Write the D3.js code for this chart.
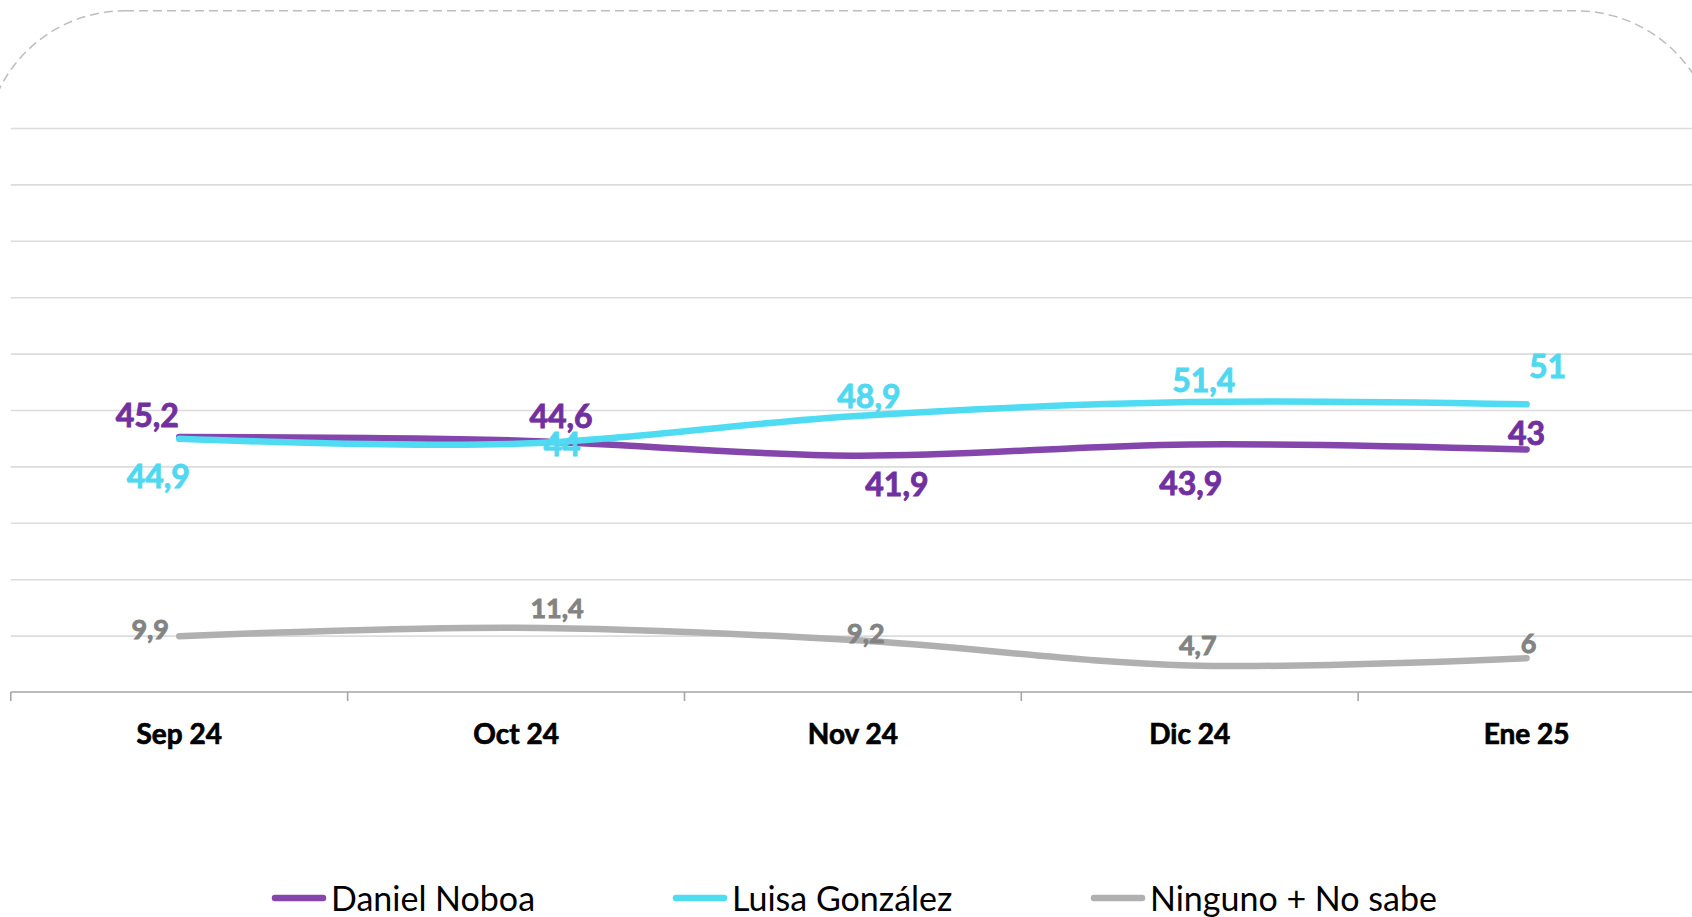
<!DOCTYPE html>
<html>
<head>
<meta charset="utf-8">
<script src="https://cdn.jsdelivr.net/npm/d3@7"></script>
<style>
  html, body { margin: 0; padding: 0; background: #fff; overflow: hidden; }
  svg { display: block; }
</style>
</head>
<body>
<div id="chart"></div>
<script>
// data
const months = ["Sep 24", "Oct 24", "Nov 24", "Dic 24", "Ene 25"];
const noboa = [45.2, 44.6, 41.9, 43.9, 43];
const gonzalez = [44.9, 44, 48.9, 51.4, 51];
const ninguno = [9.9, 11.4, 9.2, 4.7, 6];
const seriesNames = ["Daniel Noboa", "Luisa González", "Ninguno + No sabe"];
const yTicks = [10, 20, 30, 40, 50, 60, 70, 80, 90, 100];

// label offsets from the point (px), as Excel placed them
const noboaOff = [[-32, -22], [45, -24], [44, 29], [1, 39], [0, -16]];
const gonzalezOff = [[-21, 38], [46, 1], [16, -20], [14, -22], [21, -38]];
const ningunoOff = [[-29, -7], [41, -19], [13, -7], [8, -20], [2, -15]];

const W = 1692, H = 917;
const plotTop = 128, plotBottom = 692, plotLeft = 10.8, plotRight = 1695;

const series = [
  {name: seriesNames[0], values: noboa, off: noboaOff, line: "#8446AC", label: "#7030A0", size: 32},
  {name: seriesNames[1], values: gonzalez, off: gonzalezOff, line: "#4FDCF2", label: "#4FD8F0", size: 32},
  {name: seriesNames[2], values: ninguno, off: ningunoOff, line: "#B0B0B0", label: "#838383", size: 27}
];

const svg = d3.select("#chart")
  .append("svg")
    .attr("width", W)
    .attr("height", H);

// dashed rounded frame (mostly off canvas)
svg.append("rect")
  .attr("x", -15)
  .attr("y", 10.8)
  .attr("width", 1731)
  .attr("height", 1200)
  .attr("rx", 140)
  .attr("ry", 140)
  .style("fill", "none")
  .style("stroke", "#BDBDBD")
  .style("stroke-width", 1.5)
  .style("stroke-dasharray", "9,5");

const x = d3.scaleBand()
  .domain(months)
  .range([plotLeft, plotRight])
  .padding(0);

const y = d3.scaleLinear()
  .domain([0, 100])
  .range([plotBottom, plotTop]);

// gridlines
const grid = svg.append("g")
  .attr("transform", `translate(${plotLeft}, 0)`)
  .call(d3.axisLeft(y).tickValues(yTicks).tickSize(-(plotRight - plotLeft)).tickFormat(""));
grid.select(".domain").remove();
grid.selectAll("line")
  .style("stroke", "#DCDCDC")
  .style("stroke-width", 1.6);

// x axis (labels centered, tick marks between categories)
const xAxis = svg.append("g")
  .attr("transform", `translate(0, ${plotBottom})`)
  .call(d3.axisBottom(x).tickSize(0).tickPadding(0));
xAxis.select(".domain").remove();
xAxis.selectAll("text")
  .attr("y", 52)
  .attr("dy", 0)
  .style("font-family", "Lato, sans-serif")
  .style("font-weight", "bold")
  .style("font-size", "28px")
  .style("fill", "#000")
  .style("stroke", "#000")
  .style("stroke-width", 0.7);

svg.append("line")
  .attr("x1", plotLeft).attr("x2", W)
  .attr("y1", plotBottom).attr("y2", plotBottom)
  .style("stroke", "#A6A6A6")
  .style("stroke-width", 1.6);

svg.append("g")
  .selectAll("line")
  .data(months)
  .enter()
  .append("line")
    .attr("x1", d => x(d)).attr("x2", d => x(d))
    .attr("y1", plotBottom).attr("y2", plotBottom + 9)
    .style("stroke", "#A6A6A6")
    .style("stroke-width", 1.6);

const cx = (i) => x(months[i]) + x.bandwidth() / 2;

const line = d3.line()
  .x((d, i) => cx(i))
  .y(d => y(d))
  .curve(d3.curveCatmullRom.alpha(0));

// lines
svg.append("g")
  .selectAll("path")
  .data(series)
  .enter()
  .append("path")
    .attr("d", d => line(d.values))
    .style("fill", "none")
    .style("stroke", d => d.line)
    .style("stroke-width", 6.5)
    .style("stroke-linecap", "round")
    .style("stroke-linejoin", "round");

// data labels
series.forEach(s => {
  svg.append("g")
    .selectAll("text")
    .data(s.values)
    .enter()
    .append("text")
      .attr("x", (d, i) => cx(i) + s.off[i][0])
      .attr("y", (d, i) => y(d) + s.off[i][1])
      .attr("dy", "0.36em")
      .attr("text-anchor", "middle")
      .style("font-family", "Lato, sans-serif")
      .style("font-weight", "bold")
      .style("font-size", s.size + "px")
      .style("fill", s.label)
      .style("stroke", s.label)
      .style("stroke-width", 0.9)
      .text(d => String(d).replace(".", ","));
});

// legend
const legendX = [272, 673, 1091];
const legend = svg.append("g");
legend.selectAll("line")
  .data(series)
  .enter()
  .append("line")
    .attr("x1", (d, i) => legendX[i] + 3)
    .attr("x2", (d, i) => legendX[i] + 51)
    .attr("y1", 898).attr("y2", 898)
    .style("stroke", d => d.line)
    .style("stroke-width", 6.5)
    .style("stroke-linecap", "round");
legend.selectAll("text")
  .data(series)
  .enter()
  .append("text")
    .attr("x", (d, i) => legendX[i] + 59)
    .attr("y", 911)
    .style("font-family", "Lato, sans-serif")
    .style("font-size", "34px")
    .style("fill", "#000")
    .text(d => d.name);
</script>
</body>
</html>
